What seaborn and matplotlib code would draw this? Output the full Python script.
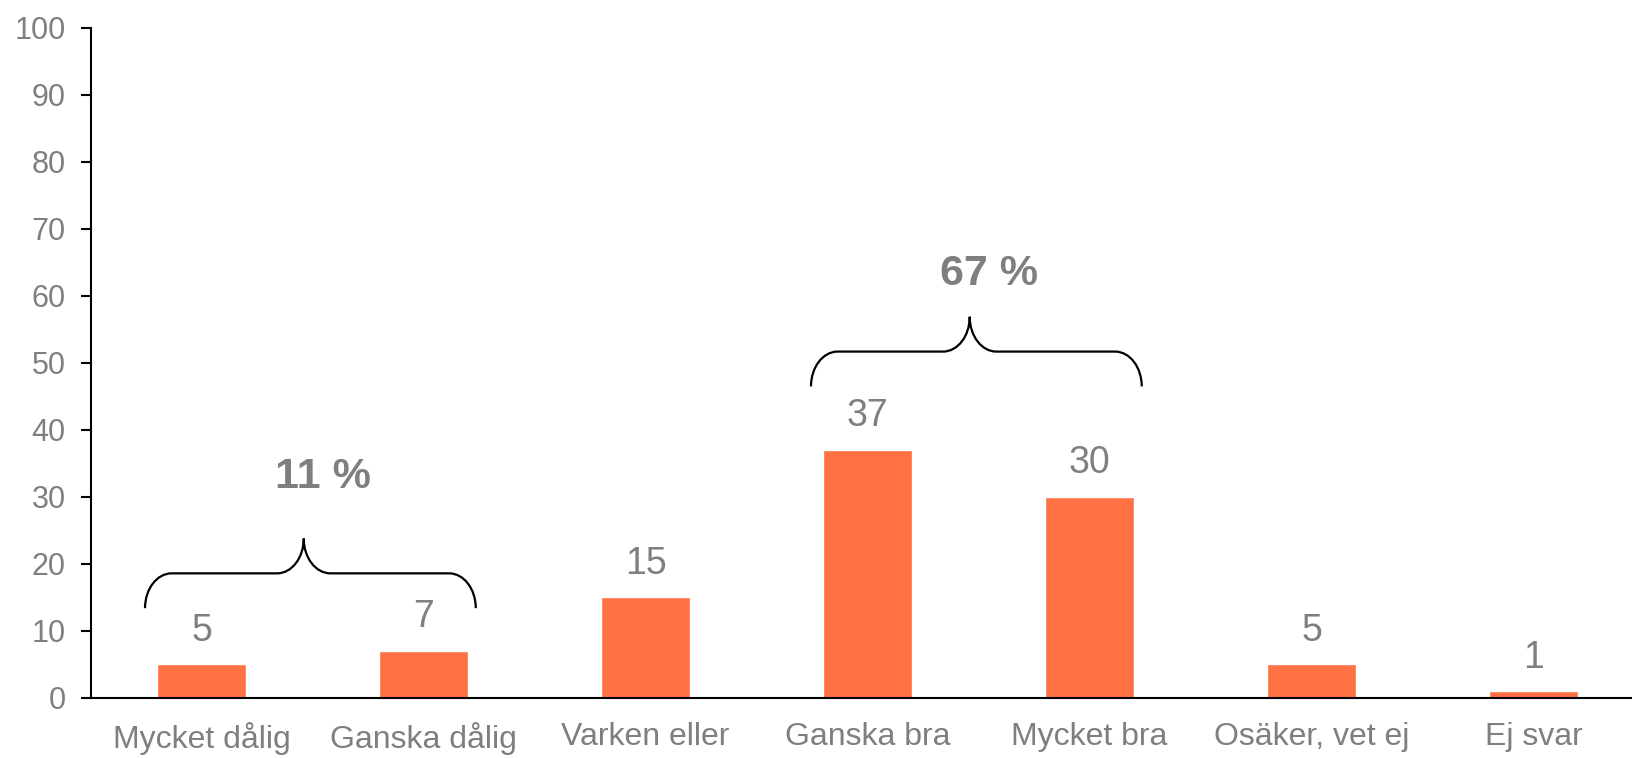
import numpy as np
import pandas as pd
from matplotlib import pyplot as plt
from matplotlib.path import Path
from matplotlib.patches import PathPatch
import seaborn as sns

categories = ['Mycket dålig', 'Ganska dålig', 'Varken eller', 'Ganska bra',
              'Mycket bra', 'Osäker, vet ej', 'Ej svar']
values = [5, 7, 15, 37, 30, 5, 1]
y_ticks = [0, 10, 20, 30, 40, 50, 60, 70, 80, 90, 100]

# grouped totals shown above the braces
group_labels = ['11 %', '67 %']
group_first = [0, 3]
group_last = [1, 4]

BAR = '#FF7043'
GRAY = '#7F7F7F'

sns.set_style('white')
plt.rcParams['font.family'] = ['Liberation Sans', 'DejaVu Sans']

df = pd.DataFrame({'kategori': categories, 'andel': values})

fig = plt.figure(figsize=(16.33, 7.58), dpi=100)
ax = fig.add_axes([0.0555, 0.0792, 0.9445, 0.8839])
sns.barplot(data=df, x='kategori', y='andel', color=BAR, width=0.4,
            saturation=1, ax=ax)

ax.set_xlim(-0.5, 6.448)
ax.set_ylim(0, 100)
ax.set_yticks(y_ticks)
ax.set_xlabel('')
ax.set_ylabel('')

for s in ['top', 'right']:
    ax.spines[s].set_visible(False)
for s in ['left', 'bottom']:
    ax.spines[s].set_color('black')
    ax.spines[s].set_linewidth(1.5)

ax.tick_params(axis='y', left=True, length=7, width=1.5, color='black',
               pad=11, labelsize=22, labelcolor=GRAY)
ax.tick_params(axis='x', bottom=False, length=0, pad=17, labelsize=23,
               labelcolor=GRAY)

for i, v in enumerate(values):
    ax.annotate(str(v), (i, v), xytext=(0, 17), textcoords='offset points',
                ha='center', va='baseline', fontsize=27, color=GRAY)


def brace(ax, x0, x1, xc, base, h=5.2, rx=0.12, rt=0.12):
    k = 0.552
    ym = base + h
    yt = ym + h
    verts = [
        (x0, base),
        (x0, base + k * h), (x0 + rx - k * rx, ym), (x0 + rx, ym),
        (xc - rt, ym),
        (xc - rt + k * rt, ym), (xc, yt - k * h), (xc, yt),
        (xc, yt - k * h), (xc + rt - k * rt, ym), (xc + rt, ym),
        (x1 - rx, ym),
        (x1 - rx + k * rx, ym), (x1, base + k * h), (x1, base),
    ]
    codes = [Path.MOVETO,
             Path.CURVE4, Path.CURVE4, Path.CURVE4,
             Path.LINETO,
             Path.CURVE4, Path.CURVE4, Path.CURVE4,
             Path.CURVE4, Path.CURVE4, Path.CURVE4,
             Path.LINETO,
             Path.CURVE4, Path.CURVE4, Path.CURVE4]
    ax.add_patch(PathPatch(Path(verts, codes), fill=False, lw=1.6,
                           edgecolor='black', clip_on=False))
    return yt


label_gap = [7.5, 4.8]
for lab, a, b, gap in zip(group_labels, group_first, group_last, label_gap):
    top = max(values[a:b + 1])
    base = top + (6.4 if top < 20 else 9.5)
    x0, x1 = a - 0.255, b + 0.235
    xc = (x0 + x1) / 2 - 0.03
    yt = brace(ax, x0, x1, xc, base)
    ax.text(xc + 0.085, yt + gap, lab, ha='center', va='baseline',
            fontsize=31, fontweight='bold', color=GRAY)

fig.savefig('out.png', dpi=100)
